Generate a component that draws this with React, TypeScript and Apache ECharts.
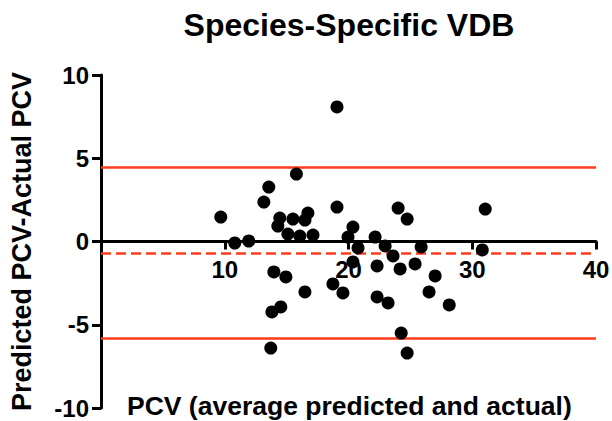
import React, { useEffect, useRef } from "react";
import * as echarts from "echarts";

const titleText = "Species-Specific VDB";
const xAxisName = "PCV (average predicted and actual)";
const yAxisName = "Predicted PCV-Actual PCV";

const xTicks = [0, 10, 20, 30, 40];
const xTickLabels = ["10", "20", "30", "40"];
const xTickLabelValues = [10, 20, 30, 40];
const yTicks = [-10, -5, 0, 5, 10];

const avgPCV = [
  9.68, 10.81, 11.94, 13.16, 13.56, 15.79, 14.45, 14.29, 15.51, 16.48, 16.72, 15.1, 16.07, 17.13,
  19.07, 19.07, 20.36, 19.96, 20.77, 22.15, 22.96, 23.6, 24.01, 24.74, 25.87, 25.38, 24.17, 22.31,
  20.36, 31.05, 30.81, 27.0, 26.51, 28.14, 22.31, 23.2, 18.74, 19.55, 24.26, 24.74, 13.97, 14.94,
  16.48, 14.53, 13.81, 13.72,
];
const diffPCV = [
  1.47, -0.09, 0.03, 2.37, 3.27, 4.05, 1.41, 0.93, 1.35, 1.29, 1.71, 0.45, 0.33, 0.39,
  8.08, 2.07, 0.87, 0.27, -0.39, 0.27, -0.27, -0.87, 2.01, 1.35, -0.33, -1.35, -1.65, -1.47,
  -1.23, 1.95, -0.51, -2.07, -3.03, -3.81, -3.33, -3.69, -2.55, -3.09, -5.5, -6.7, -1.83, -2.13,
  -3.03, -3.93, -4.23, -6.4,
];

const biasLine = -0.69;
const upperLimit = 4.47;
const lowerLimit = -5.8;

const FONT = "'Liberation Sans', Arial, sans-serif";
const RED = "#ff3b1e";

export default function App() {
  const ref = useRef<HTMLDivElement>(null);
  useEffect(() => {
    document.body.style.margin = "0";
    if (!ref.current) return;
    const chart = echarts.init(ref.current, null, { renderer: "svg" });
    const points = avgPCV.map((x, i) => [x, diffPCV[i]]);
    const tickLabelPoints = xTickLabelValues.map((x, i) => ({ value: [x, 0], label: xTickLabels[i] }));
    chart.setOption({
      animation: false,
      backgroundColor: "#ffffff",
      title: {
        text: titleText,
        left: 349,
        top: 9,
        padding: 0,
        textAlign: "center",
        textStyle: { fontFamily: FONT, fontWeight: "bold", fontSize: 32, color: "#000" },
      },
      grid: { left: 101, right: 16, top: 75, bottom: 13 },
      xAxis: {
        type: "value",
        min: xTicks[0],
        max: xTicks[xTicks.length - 1],
        interval: 10,
        axisLine: { onZero: true, lineStyle: { color: "#000", width: 3 } },
        axisTick: { show: true, length: 8, lineStyle: { color: "#000", width: 3 } },
        axisLabel: { show: false },
        splitLine: { show: false },
      },
      yAxis: {
        type: "value",
        min: yTicks[0],
        max: yTicks[yTicks.length - 1],
        interval: 5,
        name: yAxisName,
        nameLocation: "middle",
        nameRotate: 90,
        nameGap: 66,
        nameTextStyle: { fontFamily: FONT, fontWeight: "bold", fontSize: 27, color: "#000" },
        axisLine: { onZero: false, lineStyle: { color: "#000", width: 3 } },
        axisTick: { show: true, length: 9, lineStyle: { color: "#000", width: 3 } },
        axisLabel: { margin: 12, fontFamily: FONT, fontWeight: "bold", fontSize: 24, color: "#000" },
        splitLine: { show: false },
      },
      graphic: [
        {
          type: "text",
          left: 127,
          top: 392,
          style: {
            text: xAxisName,
            font: `bold 26.5px ${FONT}`,
            fill: "#000",
          },
        },
      ],
      series: [
        {
          type: "scatter",
          data: points,
          symbol: "circle",
          symbolSize: 13,
          itemStyle: { color: "#000", opacity: 1 },
          z: 5,
          markLine: {
            silent: true,
            symbol: "none",
            label: { show: false },
            data: [
              { yAxis: upperLimit, lineStyle: { color: RED, width: 2.5, type: "solid" } },
              { yAxis: lowerLimit, lineStyle: { color: RED, width: 2.5, type: "solid" } },
              { yAxis: biasLine, lineStyle: { color: RED, width: 2.5, type: "dashed" } },
            ],
          },
        },
        {
          type: "scatter",
          data: tickLabelPoints,
          symbol: "circle",
          symbolSize: 0,
          silent: true,
          clip: false,
          z: 1,
          itemStyle: { color: "#000", opacity: 1 },
          label: {
            show: true,
            position: "bottom",
            distance: 16,
            formatter: (p: any) => p.data.label,
            fontFamily: FONT,
            fontWeight: "bold",
            fontSize: 24,
            color: "#000",
            opacity: 1,
          },
        },
      ],
    });
    return () => chart.dispose();
  }, []);
  return <div ref={ref} style={{ width: 612, height: 421 }} />;
}
